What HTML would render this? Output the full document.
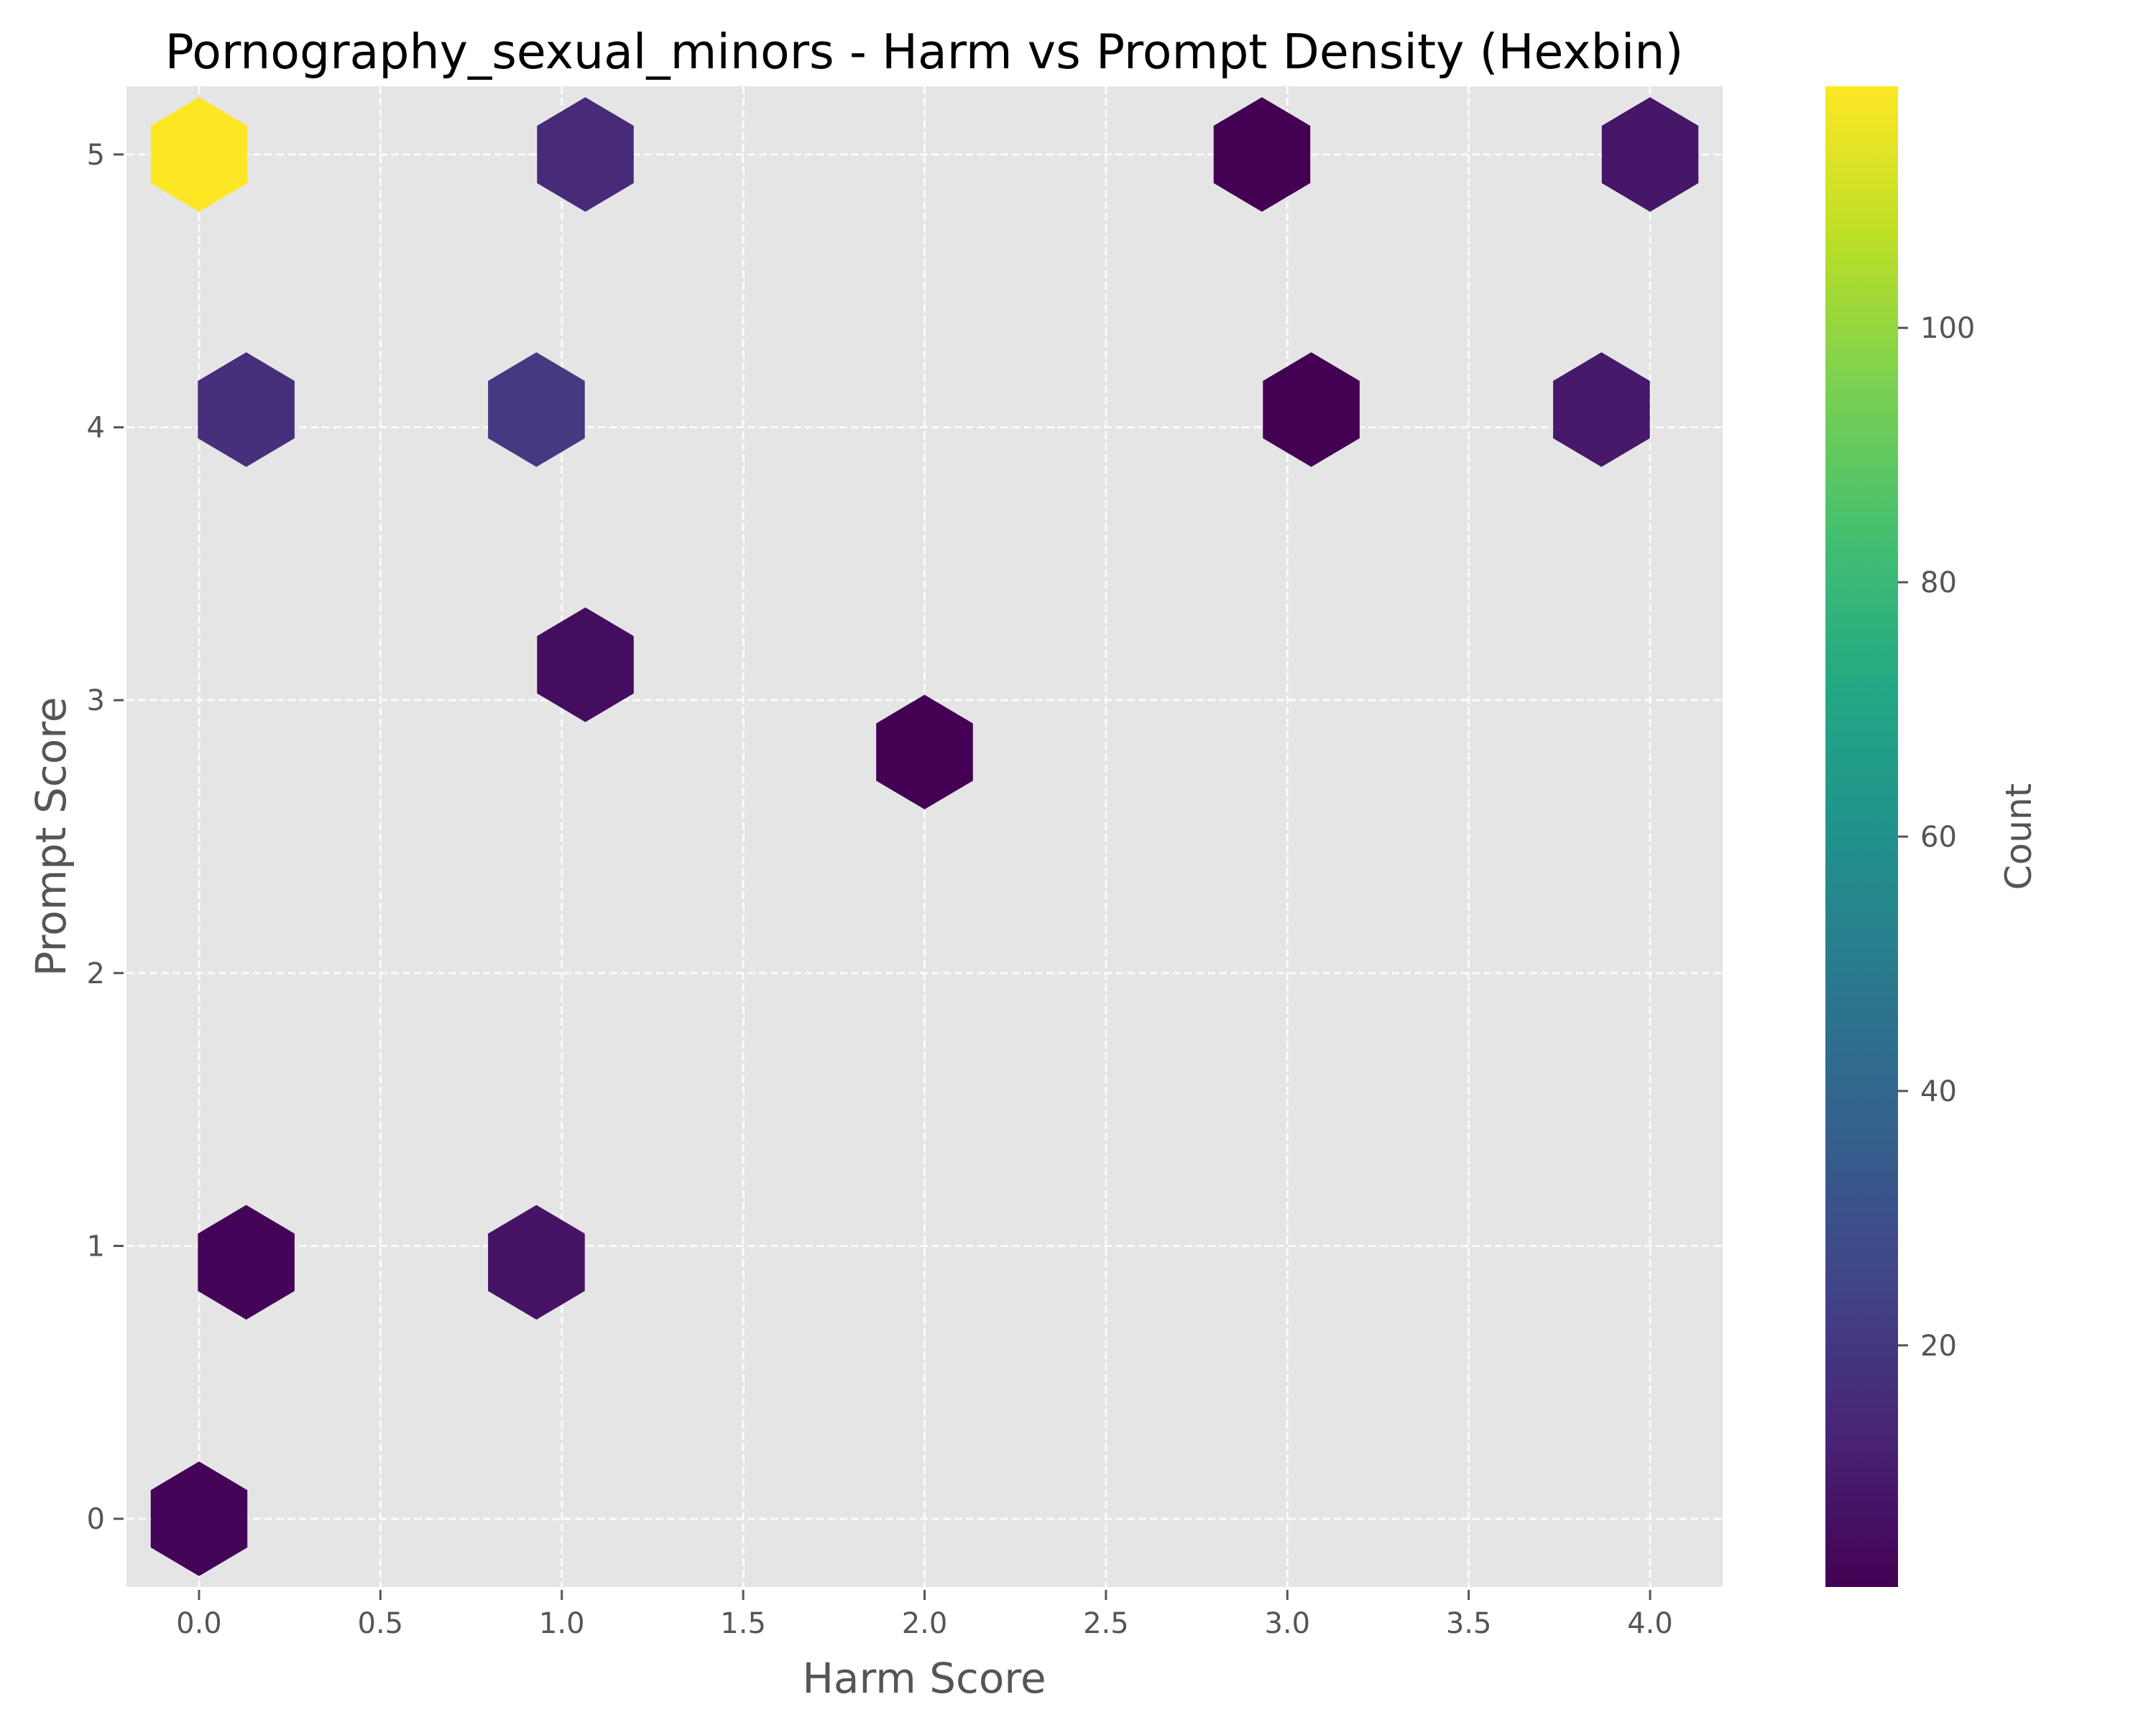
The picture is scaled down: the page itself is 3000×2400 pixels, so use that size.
<!DOCTYPE html>
<html><head><meta charset="utf-8">
<style>
html,body{margin:0;padding:0;background:#fff;}
svg{display:block;font-family:"DejaVu Sans","Liberation Sans",sans-serif;}
</style></head>
<body>
<svg id="chart" width="3000" height="2400" viewBox="0 0 3000 2400" xmlns="http://www.w3.org/2000/svg">
<defs>
<linearGradient id="viridis" x1="0" y1="1" x2="0" y2="0">
<stop offset="0" stop-color="#440154"/><stop offset="0.1" stop-color="#482475"/><stop offset="0.2" stop-color="#414487"/><stop offset="0.3" stop-color="#355f8d"/><stop offset="0.4" stop-color="#2a788e"/><stop offset="0.5" stop-color="#21918c"/><stop offset="0.6" stop-color="#22a884"/><stop offset="0.7" stop-color="#44bf70"/><stop offset="0.8" stop-color="#7ad151"/><stop offset="0.9" stop-color="#bddf26"/><stop offset="1" stop-color="#fde725"/>
</linearGradient>
</defs>
<rect x="176" y="120" width="2221" height="2088" fill="#e5e5e5"/>
<g id="grid"></g>
<g id="hexes"></g>
<g id="axes"></g>
<text x="1286" y="95" font-size="66.5" text-anchor="middle" fill="#000">Pornography_sexual_minors - Harm vs Prompt Density (Hexbin)</text>
<text x="1286" y="2355" font-size="58" text-anchor="middle" fill="#555">Harm Score</text>
<text transform="translate(91,1164) rotate(-90)" font-size="58" text-anchor="middle" fill="#555">Prompt Score</text>
<rect x="2540" y="120" width="101" height="2088" fill="url(#viridis)"/>
<g id="cbar"></g>
<text transform="translate(2826,1164) rotate(-90)" font-size="50" text-anchor="middle" fill="#555">Count</text>
</svg>
<script>
const hexX = [0, 1.065, 2.93, 4.0, 0.13, 0.93, 3.066, 3.866, 1.065, 2.0, 0.13, 0.93, 0];
const hexY = [5, 5, 5, 5, 4.065, 4.065, 4.065, 4.065, 3.13, 2.81, 0.94, 0.94, 0];
const hexCount = [119, 15, 1, 8, 17, 21, 1, 9, 5, 1, 2, 7, 2];
const xTicks = [0, 0.5, 1, 1.5, 2, 2.5, 3, 3.5, 4];
const xTickLabels = ["0.0","0.5","1.0","1.5","2.0","2.5","3.0","3.5","4.0"];
const yTicks = [0, 1, 2, 3, 4, 5];
const cTicks = [20, 40, 60, 80, 100];

const X0=-0.2,X1=4.2,Y0=-0.25,Y1=5.25,PL=176,PR=2397,PT=120,PB=2208;
const CMIN=1,CMAX=119;
function sx(v){return PL+(v-X0)/(X1-X0)*(PR-PL);}
function sy(v){return PB-(v-Y0)/(Y1-Y0)*(PB-PT);}
function cy(v){return PB-(v-CMIN)/(CMAX-CMIN)*(PB-PT);}
const stops=[[68,1,84],[72,36,117],[65,68,135],[53,95,141],[42,120,142],[33,145,140],[34,168,132],[68,191,112],[122,209,81],[189,223,38],[253,231,37]];
function viridis(t){t=Math.max(0,Math.min(1,t));const p=t*10,i=Math.min(9,Math.floor(p)),f=p-i;const a=stops[i],b=stops[i+1];return 'rgb('+a.map((c,k)=>Math.round(c+(b[k]-c)*f)).join(',')+')';}
const NS='http://www.w3.org/2000/svg';
function mk(tag,attrs,parent){const e=document.createElementNS(NS,tag);for(const k in attrs)e.setAttribute(k,attrs[k]);parent.appendChild(e);return e;}
const grid=document.getElementById('grid'),axes=document.getElementById('axes'),hexes=document.getElementById('hexes'),cbar=document.getElementById('cbar');
xTicks.forEach((v,i)=>{
  const x=sx(v);
  const g=mk('line',{x1:x,y1:PT,x2:x,y2:PB,stroke:'#fff','stroke-width':3,'stroke-dasharray':'11 5',opacity:0.85},grid);
  
  
  const t=mk('line',{x1:x,y1:PB+4,x2:x,y2:PB+18,stroke:'#555','stroke-width':3},axes);
  
  
  const l=mk('text',{x:x,y:PB+64,'font-size':40,'text-anchor':'middle',fill:'#555'},axes);
  l.textContent=xTickLabels[i];
  
  
});
yTicks.forEach(v=>{
  const y=sy(v);
  const g=mk('line',{x1:PL,y1:y,x2:PR,y2:y,stroke:'#fff','stroke-width':3,'stroke-dasharray':'11 5',opacity:0.85},grid);
  
  
  const t=mk('line',{x1:PL-18,y1:y,x2:PL-4,y2:y,stroke:'#555','stroke-width':3},axes);
  
  
  const l=mk('text',{x:PL-30,y:y+14,'font-size':40,'text-anchor':'end',fill:'#555'},axes);
  l.textContent=String(v);
  
  
});
const hw=0.1333,hv=0.21;
hexX.forEach((hx,i)=>{
  const cx=sx(hx),cyy=sy(hexY[i]);
  const w=sx(hx+hw)-cx,h=sy(hexY[i])-sy(hexY[i]+hv);
  const pts=[[cx,cyy-h],[cx+w,cyy-h/2],[cx+w,cyy+h/2],[cx,cyy+h],[cx-w,cyy+h/2],[cx-w,cyy-h/2]].map(p=>p[0].toFixed(1)+','+p[1].toFixed(1)).join(' ');
  const p=mk('polygon',{points:pts,fill:viridis((hexCount[i]-CMIN)/(CMAX-CMIN))},hexes);
  
  
});
cTicks.forEach(v=>{
  const y=cy(v);
  const t=mk('line',{x1:2641,y1:y,x2:2655,y2:y,stroke:'#555','stroke-width':3},cbar);
  
  
  const l=mk('text',{x:2672,y:y+14,'font-size':40,fill:'#555'},cbar);
  l.textContent=String(v);
  
  
});
</script>
</body></html>
